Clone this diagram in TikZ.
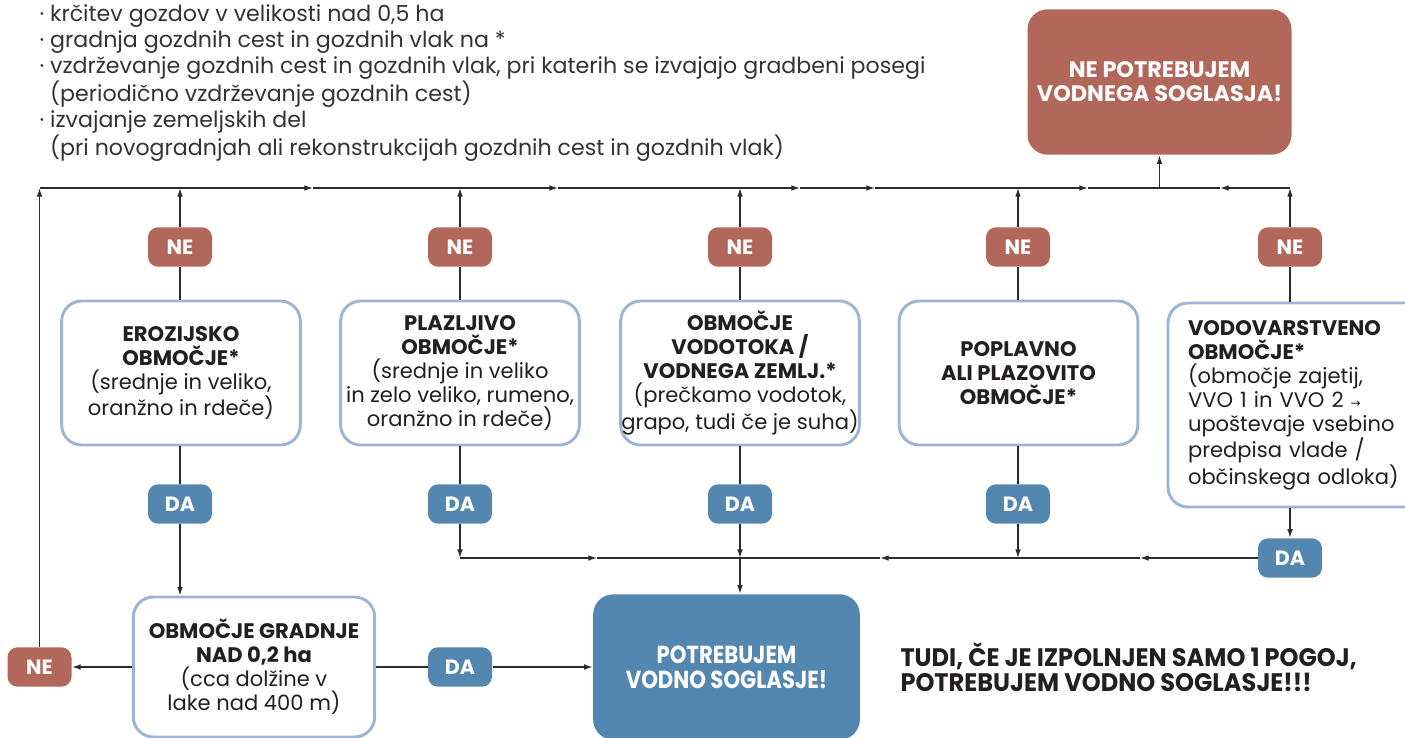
\documentclass[tikz,border=0pt]{standalone}
\usepackage{fontspec}
\setmainfont{Poppins}
\newfontfamily\condfont[FakeStretch=0.86]{Poppins}
\newfontfamily\notefont[FakeStretch=0.95]{Poppins}
\newfontfamily\symfont{DejaVu Sans}
\usetikzlibrary{arrows.meta}

\definecolor{nered}{HTML}{B2675B}
\definecolor{dablue}{HTML}{5487B0}
\definecolor{frameblue}{HTML}{9DB5D3}
\definecolor{inkdark}{HTML}{231F20}
\definecolor{listgray}{HTML}{333333}
\definecolor{linegray}{HTML}{2B2B2B}

\tikzset{every picture/.style={line width=0.75pt}}
\tikzset{
  conn/.style={draw=linegray, line width=1pt},
  arr/.style={conn, -{Latex[length=6.5pt,width=4.3pt]}},
  pill/.style={rounded corners=7.5pt, minimum width=48pt, minimum height=29.5pt, inner sep=0pt, text=white, font=\fontsize{15.5}{18}\selectfont\bfseries},
  nepill/.style={pill, fill=nered},
  dapill/.style={pill, fill=dablue},
  question/.style={draw=frameblue, line width=2.2pt, fill=white, rounded corners=15pt, minimum width=179pt, minimum height=108pt, align=center, inner sep=0pt, text=inkdark, font=\fontsize{15.8}{18}\selectfont},
  answer/.style={rounded corners=15pt, text=white, align=center, inner sep=0pt, font=\fontsize{16.8}{18}\selectfont\bfseries},
}

\begin{document}
\begin{tikzpicture}[x=0.75pt,y=0.75pt,yscale=-1,xscale=1]
\useasboundingbox (0,0) rectangle (1405,738);

% Text Node
\node [anchor=north west, align=left, inner sep=0pt, text=listgray, font=\fontsize{16.6}{19.6}\selectfont] (list) at (39,4) {%
\makebox[8pt][l]{·}krčitev gozdov v velikosti nad 0,5 ha\\
\makebox[8pt][l]{·}gradnja gozdnih cest in gozdnih vlak na *\\
\makebox[8pt][l]{·}vzdrževanje gozdnih cest in gozdnih vlak, pri katerih se izvajajo gradbeni posegi\\
\hspace*{8pt}(periodično vzdrževanje gozdnih cest)\\
\makebox[8pt][l]{·}izvajanje zemeljskih del\\
\hspace*{8pt}(pri novogradnjah ali rekonstrukcijah gozdnih cest in gozdnih vlak)};

%Rounded Rect: no permit needed
\node [answer, fill=nered, minimum width=198pt, minimum height=109pt] (no) at (1159.5,82) {NE POTREBUJEM\\VODNEGA SOGLASJA!};

%Rounded Rect: questions
\node [question] (q1) at (181,373) {\textbf{EROZIJSKO}\\\textbf{OBMOČJE*}\\(srednje in veliko,\\oranžno in rdeče)};
\node [question] (q2) at (460,373) {\textbf{PLAZLJIVO}\\\textbf{OBMOČJE*}\\(srednje in veliko\\in zelo veliko, rumeno,\\oranžno in rdeče)};
\node [question] (q3) at (740,373) {\textbf{OBMOČJE}\\\textbf{VODOTOKA /}\\\textbf{VODNEGA ZEMLJ.*}\\(prečkamo vodotok,\\grapo, tudi če je suha)};
\node [question] (q4) at (1018.5,373) {\textbf{POPLAVNO}\\\textbf{ALI PLAZOVITO}\\\textbf{OBMOČJE*}};
\node [question, align=left, text width=165pt, inner xsep=15pt, minimum height=153pt] (q5) at (1298,405) {\textbf{VODOVARSTVENO}\\\textbf{OBMOČJE*}\\(območje zajetij,\\VVO 1 in VVO 2 {\symfont\fontsize{9}{9}\selectfont →}\\upoštevaje vsebino\\predpisa vlade /\\občinskega odloka)};
\node [question, minimum width=181pt, minimum height=105pt] (g1) at (254,667) {\textbf{OBMOČJE GRADNJE}\\\textbf{NAD 0,2 ha}\\(cca dolžine v\\lake nad 400 m)};

%Rounded Rect: permit needed
\node [answer, fill=dablue, minimum width=200pt, minimum height=109pt, font=\condfont\fontsize{18.5}{19}\selectfont\bfseries] (yes) at (726.5,667) {POTREBUJEM\\VODNO SOGLASJE!};

%Pills
\node [nepill] (ne1) at (180,247) {NE};
\node [nepill] (ne2) at (460,247) {NE};
\node [nepill] (ne3) at (740,247) {NE};
\node [nepill] (ne4) at (1018,247) {NE};
\node [nepill] (ne5) at (1290,247) {NE};
\node [nepill] (ne6) at (39.5,667) {NE};
\node [dapill] (da1) at (180,504) {DA};
\node [dapill] (da2) at (460,504) {DA};
\node [dapill] (da3) at (740,504) {DA};
\node [dapill] (da4) at (1018,504) {DA};
\node [dapill] (da5) at (1290,558) {DA};
\node [dapill] (da6) at (460,667) {DA};

% Text Node
\node [anchor=west, align=left, inner sep=0pt, text=inkdark, font=\notefont\fontsize{19}{19}\selectfont\bfseries] (note) at (900,667) {TUDI, ČE JE IZPOLNJEN SAMO 1 POGOJ,\\POTREBUJEM VODNO SOGLASJE!!!};

%Coordinates on the upper line
\coordinate (tl) at (39.5,188);
\coordinate (tr) at (1290,188);
\coordinate (tm) at (1159.5,188);
\coordinate (m1) at (313,188);
\coordinate (m2) at (558,188);
\coordinate (m3) at (800,188);
\coordinate (m4) at (875,188);
\coordinate (m5) at (1088,188);
\coordinate (m6) at (1220,188);
%Coordinates on the lower line
\coordinate (k1) at (597,558);
\coordinate (k2) at (880,558);
\coordinate (k3) at (1140,558);

%Straight Lines: NE branches
\foreach \i in {1,...,5}{
  \draw [conn] (q\i.north -| ne\i) -- (ne\i.south);
  \draw [arr] (ne\i.north) -- (ne\i |- tl);
}
\draw [arr] (ne6.north) -- (tl);
\draw [arr] (tl) -- (m1);
\draw [arr] (m1) -- (m2);
\draw [arr] (m2) -- (m3);
\draw [arr] (m3) -- (m4);
\draw [arr] (m4) -- (m5);
\draw [conn] (m5) -- (tm);
\draw [arr] (tr) -- (m6);
\draw [conn] (m6) -- (tm);
\draw [arr] (tm) -- (no.south);

%Straight Lines: DA branches
\foreach \i in {1,...,4}{
  \draw [conn] (q\i.south -| da\i) -- (da\i.north);
}
\draw [arr] (q5.south -| da5) -- (da5.north);
\draw [arr] (da1.south) -- (da1 |- g1.north);
\foreach \i in {2,3,4}{
  \draw [arr] (da\i.south) -- (da\i |- da5);
}
\draw [arr] (da2 |- da5) -- (k1);
\draw [conn] (k1) -- (da3 |- da5);
\draw [arr] (da5.west) -- (k3);
\draw [arr] (k3) -- (k2);
\draw [conn] (k2) -- (da3 |- da5);
\draw [arr] (da3 |- da5) -- (da3 |- yes.north);

%Straight Lines: area of works
\draw [arr] (g1.west) -- (ne6.east);
\draw [conn] (g1.east) -- (da6.west);
\draw [arr] (da6.east) -- (yes.west);

\end{tikzpicture}
\end{document}
